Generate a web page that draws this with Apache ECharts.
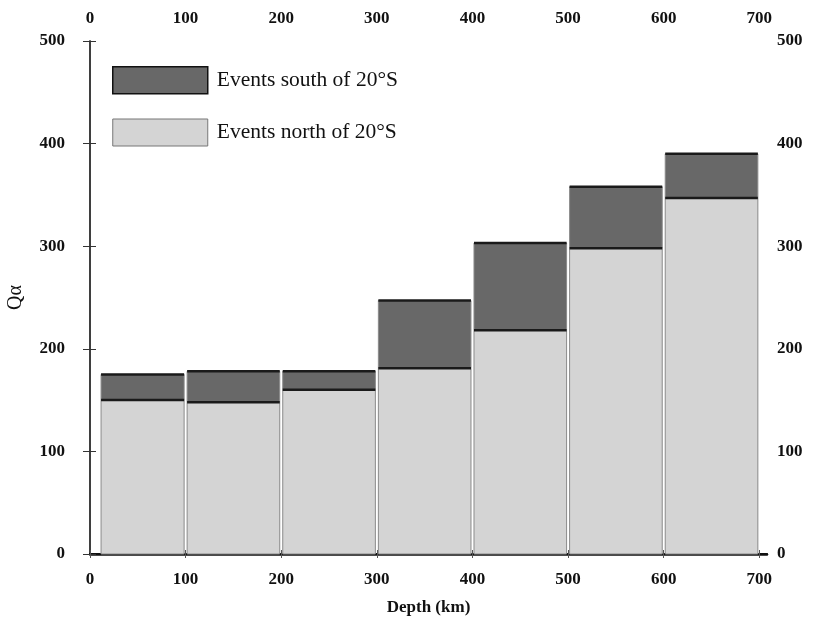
<!DOCTYPE html>
<html>
<head>
<meta charset="utf-8">
<script src="https://cdn.jsdelivr.net/npm/echarts@6/dist/echarts.min.js"></script>
<style>html,body{margin:0;padding:0;background:#fff}#c{width:819px;height:620px}</style>
</head>
<body>
<div id="c"></div>
<script>
// Depth bins (km)
const binStart = [10, 100, 200, 300, 400, 500, 600];
const binEnd   = [100, 200, 300, 400, 500, 600, 700];
// Q-alpha for events north of 20°S (lower part of each bar)
const northQ = [150, 148, 160, 181, 218, 298, 347];
// Extra Q-alpha for events south of 20°S (stacked on top)
const southQ = [25, 30, 18, 66, 85, 60, 43];
// Tick labels
const depthTicks = [0, 100, 200, 300, 400, 500, 600, 700];
const qTicks = [0, 100, 200, 300, 400, 500];

const southName = 'Events south of 20°S';
const northName = 'Events north of 20°S';
const darkFill = '#686868';
const lightFill = '#d4d4d4';

const northData = binStart.map((s, i) => [s, binEnd[i], 0, northQ[i]]);
const southData = binStart.map((s, i) => [s, binEnd[i], northQ[i], northQ[i] + southQ[i]]);

function makeRender(fill) {
  return function (params, api) {
    const p0 = api.coord([api.value(0), api.value(2)]);
    const p1 = api.coord([api.value(1), api.value(3)]);
    const inset = 1.5;
    const x = p0[0] + inset, w = p1[0] - p0[0] - 2 * inset;
    const yTop = p1[1], h = p0[1] - p1[1];
    return {
      type: 'group',
      children: [
        { type: 'rect', shape: { x: x, y: yTop, width: w, height: h },
          style: { fill: fill, stroke: '#8a8a8a', lineWidth: 1 } },
        { type: 'line', shape: { x1: x, y1: yTop, x2: x + w, y2: yTop },
          style: { stroke: '#1a1a1a', lineWidth: 2.5 } }
      ]
    };
  };
}

const labelFont = { fontFamily: 'Liberation Serif', fontWeight: 'bold', fontSize: 17, color: '#111' };

const chart = echarts.init(document.getElementById('c'));
chart.setOption({
  backgroundColor: '#fff',
  animation: false,
  grid: { left: 90, right: 52, top: 41, bottom: 66, containLabel: false, outerBoundsMode: 'none' },
  legend: {
    orient: 'vertical', left: 107, top: 61,
    itemWidth: 95, itemHeight: 27, itemGap: 24,
    data: [
      { name: southName, icon: 'rect', itemStyle: { color: darkFill, borderColor: '#111', borderWidth: 1.5 } },
      { name: northName, icon: 'rect', itemStyle: { color: lightFill, borderColor: '#777', borderWidth: 1 } }
    ],
    textStyle: { fontFamily: 'Liberation Serif', fontSize: 21.5, color: '#111', padding: [0, 0, 0, 4] },
    selectedMode: false
  },
  xAxis: [
    { type: 'value', position: 'bottom', min: 0, max: 708,
      name: 'Depth (km)', nameLocation: 'middle', nameGap: 45,
      nameTextStyle: labelFont,
      axisLine: { lineStyle: { color: '#111', width: 2.5 } },
      axisTick: { show: true, length: 4, customValues: depthTicks, lineStyle: { color: '#555' } },
      axisLabel: Object.assign({ customValues: depthTicks, margin: 17 }, labelFont),
      splitLine: { show: false } },
    { type: 'value', position: 'top', min: 0, max: 708,
      axisLine: { lineStyle: { color: '#111', width: 2 } },
      axisTick: { show: true, length: 4, customValues: depthTicks, lineStyle: { color: '#555' } },
      axisLabel: Object.assign({ customValues: depthTicks, margin: 14 }, labelFont),
      splitLine: { show: false } }
  ],
  yAxis: [
    { type: 'value', position: 'left', min: 0, max: 500, interval: 100,
      name: 'Qα', nameLocation: 'middle', nameGap: 64,
      nameTextStyle: { fontFamily: 'Liberation Serif', fontSize: 20, color: '#111' },
      axisLine: { show: true, lineStyle: { color: '#333', width: 1.5 } },
      axisTick: { show: true, length: 7, lineStyle: { color: '#333' } },
      axisLabel: Object.assign({ margin: 25 }, labelFont),
      splitLine: { show: false } },
    { type: 'value', position: 'right', min: 0, max: 500, interval: 100,
      axisLine: { show: true, lineStyle: { color: '#333', width: 1.5 } },
      axisTick: { show: true, length: 6, lineStyle: { color: '#333' } },
      axisLabel: Object.assign({ margin: 10 }, labelFont),
      splitLine: { show: false } }
  ],
  series: [
    { name: southName, type: 'custom', xAxisIndex: 0, yAxisIndex: 0,
      itemStyle: { color: darkFill }, renderItem: makeRender(darkFill),
      encode: { x: [0, 1], y: [2, 3] }, data: southData },
    { name: northName, type: 'custom', xAxisIndex: 0, yAxisIndex: 0,
      itemStyle: { color: lightFill }, renderItem: makeRender(lightFill),
      encode: { x: [0, 1], y: [2, 3] }, data: northData }
  ]
});
</script>
</body>
</html>
